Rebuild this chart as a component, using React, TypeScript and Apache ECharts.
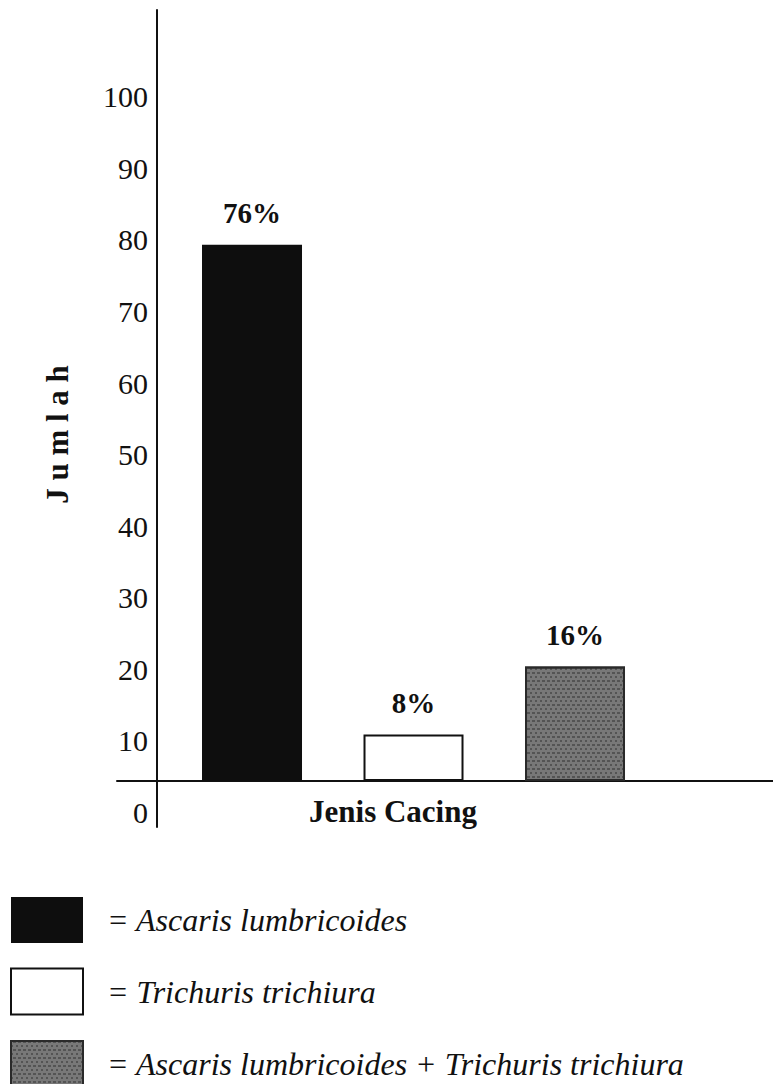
import React, { useEffect, useRef } from "react";
import * as echarts from "echarts";

const categories = [
  "Ascaris lumbricoides",
  "Trichuris trichiura",
  "Ascaris lumbricoides + Trichuris trichiura",
];
const positions = [1, 2, 3];
const values = [75, 6.5, 16];
const pctLabels = ["76%", "8%", "16%"];
const yTickLabels = [0, 10, 20, 30, 40, 50, 60, 70, 80, 90, 100];

const FONT = "'Liberation Serif', 'Times New Roman', serif";

const fills = ["#0e0e0e", "#ffffff", "#787878"];
const borders = ["#0e0e0e", "#111111", "#2a2a2a"];

export default function App() {
  const ref = useRef<HTMLDivElement>(null);

  useEffect(() => {
    if (!ref.current) return;
    const chart = echarts.init(ref.current, undefined, { renderer: "svg" });

    const series = categories.map((name, i) => ({
      name,
      type: "bar",
      barWidth: 100,
      barGap: "-100%",
      data: [[positions[i], values[i]]],
      itemStyle: {
        color: fills[i],
        borderColor: borders[i],
        borderWidth: i === 0 ? 0 : 2,
        decal:
          i === 2
            ? {
                symbol: "rect",
                symbolSize: 1,
                dashArrayX: [[2, 3], [0, 2, 3, 0]],
                dashArrayY: [2, 2],
                color: "rgba(40,40,40,0.45)",
              }
            : "none",
      },
      label: {
        show: true,
        position: "top",
        distance: 17,
        formatter: () => pctLabels[i],
        fontFamily: FONT,
        fontWeight: "bold",
        fontSize: 29,
        color: "#111",
      },
    }));

    chart.setOption({
      animation: false,
      backgroundColor: "#ffffff",
      grid: { left: 117, right: 0, top: 10, bottom: 257, containLabel: false },
      xAxis: {
        type: "value",
        min: 0.164,
        max: 4.226,
        axisLine: { show: true, onZero: true, lineStyle: { color: "#111", width: 2 } },
        axisTick: { show: false },
        axisLabel: { show: false },
        splitLine: { show: false },
        name: "Jenis Cacing",
        nameLocation: "middle",
        nameGap: -31,
        nameTextStyle: {
          fontFamily: FONT,
          fontWeight: "bold",
          fontSize: 31,
          color: "#111",
          padding: [0, 104, 0, 0],
        },
      },
      yAxis: {
        type: "value",
        position: "left",
        offset: -40,
        min: -6.43,
        max: 107.83,
        axisLine: { show: true, onZero: false, lineStyle: { color: "#111", width: 2 } },
        axisTick: { show: false },
        splitLine: { show: false },
        axisLabel: {
          customValues: yTickLabels,
          fontFamily: FONT,
          fontSize: 30,
          color: "#111",
          margin: 9,
          verticalAlign: "top",
          lineHeight: 62,
        },
        name: "J u m l a h",
        nameLocation: "middle",
        nameRotate: 90,
        nameGap: 84,
        nameTextStyle: {
          fontFamily: FONT,
          fontWeight: "bold",
          fontSize: 31,
          color: "#111",
          padding: [0, 32, 0, 0],
        },
      },
      legend: {
        orient: "vertical",
        left: 10,
        top: 897,
        height: 300,
        padding: 0,
        itemWidth: 72,
        itemHeight: 46,
        itemGap: 24.5,
        icon: "rect",
        selectedMode: false,
        formatter: (n: string) => "= " + n,
        textStyle: {
          fontFamily: FONT,
          fontStyle: "italic",
          fontSize: 32,
          color: "#111",
          padding: [0, 0, 0, 19],
        },
      },
      series,
    });

    return () => chart.dispose();
  }, []);

  return (
    <div
      ref={ref}
      style={{ position: "absolute", left: 0, top: 0, width: 773, height: 1084 }}
    />
  );
}
